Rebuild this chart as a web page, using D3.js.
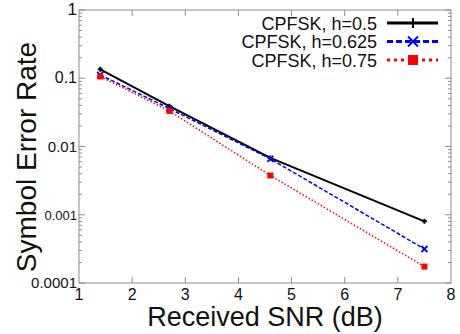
<!DOCTYPE html>
<html>
<head>
<meta charset="utf-8">
<script src="https://cdn.jsdelivr.net/npm/d3@7"></script>
<style>
  body { margin: 0; background: #fff; }
  svg { font-family: "Liberation Sans", Arial, sans-serif; }
</style>
</head>
<body>
<div id="chart"></div>
<script>
// values
const snr = [1.4, 2.7, 4.6, 7.5];
const serH05 = [0.135, 0.039, 0.0068, 0.00080];
const serH0625 = [0.112, 0.036, 0.0066, 0.000315];
const serH075 = [0.106, 0.0332, 0.00376, 0.000174];
const seriesNames = ["CPFSK, h=0.5", "CPFSK, h=0.625", "CPFSK, h=0.75"];
const xTicks = [1, 2, 3, 4, 5, 6, 7, 8];
const yTicks = [1, 0.1, 0.01, 0.001, 0.0001];

const width = 460, height = 334;
const margin = { top: 10, right: 9, bottom: 51, left: 79 };

const svg = d3.select('#chart').append('svg')
    .attr('width', width)
    .attr('height', height);

const x = d3.scaleLinear()
    .domain([1, 8])
    .range([margin.left, width - margin.right]);

const y = d3.scaleLog()
    .domain([0.0001, 1])
    .range([height - margin.bottom, margin.top]);

const axisColor = '#8c8c8c';

// frame
svg.append('rect')
    .attr('x', x(1))
    .attr('y', y(1))
    .attr('width', x(8) - x(1))
    .attr('height', y(0.0001) - y(1))
    .attr('fill', 'none')
    .attr('stroke', axisColor)
    .attr('stroke-width', 1);

// minor + major log ticks, inside on left and right
const minor = [];
for (let e = -4; e < 0; e++) {
    for (let m = 2; m <= 9; m++) minor.push(m * Math.pow(10, e));
}
const tickG = svg.append('g').attr('stroke', axisColor).attr('stroke-width', 1);
minor.forEach(v => {
    tickG.append('line').attr('x1', x(1)).attr('x2', x(1) + 3).attr('y1', y(v)).attr('y2', y(v));
    tickG.append('line').attr('x1', x(8)).attr('x2', x(8) - 3).attr('y1', y(v)).attr('y2', y(v));
});
yTicks.forEach(v => {
    tickG.append('line').attr('x1', x(1)).attr('x2', x(1) + 6).attr('y1', y(v)).attr('y2', y(v));
    tickG.append('line').attr('x1', x(8)).attr('x2', x(8) - 6).attr('y1', y(v)).attr('y2', y(v));
});
xTicks.slice(1, -1).forEach(v => {
    tickG.append('line').attr('x1', x(v)).attr('x2', x(v)).attr('y1', y(0.0001)).attr('y2', y(0.0001) - 6);
    tickG.append('line').attr('x1', x(v)).attr('x2', x(v)).attr('y1', y(1)).attr('y2', y(1) + 6);
});

// tick labels
const ySize = { 1: 17, 0.1: 16, 0.01: 15, 0.001: 13, 0.0001: 15 };
svg.append('g')
  .selectAll('text')
  .data(yTicks)
  .join('text')
    .attr('x', x(1) - 2)
    .attr('y', d => y(d) + 5)
    .attr('text-anchor', 'end')
    .attr('font-size', d => ySize[d])
    .attr('fill', '#111')
    .text(d => d === 0.0001 ? '0.0001' : String(d));

svg.append('g')
  .selectAll('text')
  .data(xTicks)
  .join('text')
    .attr('x', d => x(d))
    .attr('y', y(0.0001) + 17)
    .attr('text-anchor', 'middle')
    .attr('font-size', 16)
    .attr('fill', '#111')
    .text(d => d);

// axis titles
svg.append('text')
    .attr('x', 265)
    .attr('y', 326)
    .attr('text-anchor', 'middle')
    .attr('font-size', 27)
    .attr('fill', '#111')
    .text('Received SNR (dB)');

svg.append('text')
    .attr('transform', 'translate(36,' + 157 + ') rotate(-90)')
    .attr('text-anchor', 'middle')
    .attr('font-size', 28)
    .attr('fill', '#111')
    .text('Symbol Error Rate');

// series
const series = [
    { name: seriesNames[0], values: serH05, color: '#000', width: 2, dash: null, marker: 'plus' },
    { name: seriesNames[1], values: serH0625, color: '#0000ff', width: 1.5, dash: '4,2', marker: 'cross' },
    { name: seriesNames[2], values: serH075, color: '#ff0000', width: 1.5, dash: '1.5,2', marker: 'square' },
];

const line = d3.line().x(d => x(d[0])).y(d => y(d[1]));

function drawMarker(g, type, cx, cy, color, s) {
    if (type === 'plus') {
        g.append('path').attr('d', `M${cx - s},${cy}H${cx + s}M${cx},${cy - s}V${cy + s}`)
            .attr('stroke', color).attr('stroke-width', 2).attr('fill', 'none');
    } else if (type === 'cross') {
        g.append('path').attr('d', `M${cx - s},${cy - s}L${cx + s},${cy + s}M${cx - s},${cy + s}L${cx + s},${cy - s}`)
            .attr('stroke', color).attr('stroke-width', 1.8).attr('fill', 'none');
    } else {
        g.append('rect').attr('x', cx - s).attr('y', cy - s).attr('width', 2 * s).attr('height', 2 * s)
            .attr('fill', color);
    }
}

series.forEach(s => {
    const pts = snr.map((v, i) => [v, s.values[i]]);
    svg.append('path')
        .datum(pts)
        .attr('d', line)
        .attr('fill', 'none')
        .attr('stroke', s.color)
        .attr('stroke-width', s.width)
        .attr('stroke-dasharray', s.dash);
    const g = svg.append('g');
    pts.forEach(p => drawMarker(g, s.marker, x(p[0]), y(p[1]), s.color, s.marker === 'plus' ? 2.5 : 3));
});

// legend
const legend = svg.append('g').attr('font-size', 18).attr('fill', '#111');
series.forEach((s, i) => {
    const ly = 23 + i * 18.5;
    legend.append('text')
        .attr('x', 377)
        .attr('y', ly + 6.5)
        .attr('text-anchor', 'end')
        .text(s.name);
    legend.append('line')
        .attr('x1', 387).attr('x2', 438)
        .attr('y1', ly).attr('y2', ly)
        .attr('stroke', s.color)
        .attr('stroke-width', 3)
        .attr('stroke-dasharray', s.dash ? (i === 1 ? '6,3' : '3,4') : null);
    drawMarker(legend, s.marker, 413, ly, s.color, 5);
});
</script>
</body>
</html>
